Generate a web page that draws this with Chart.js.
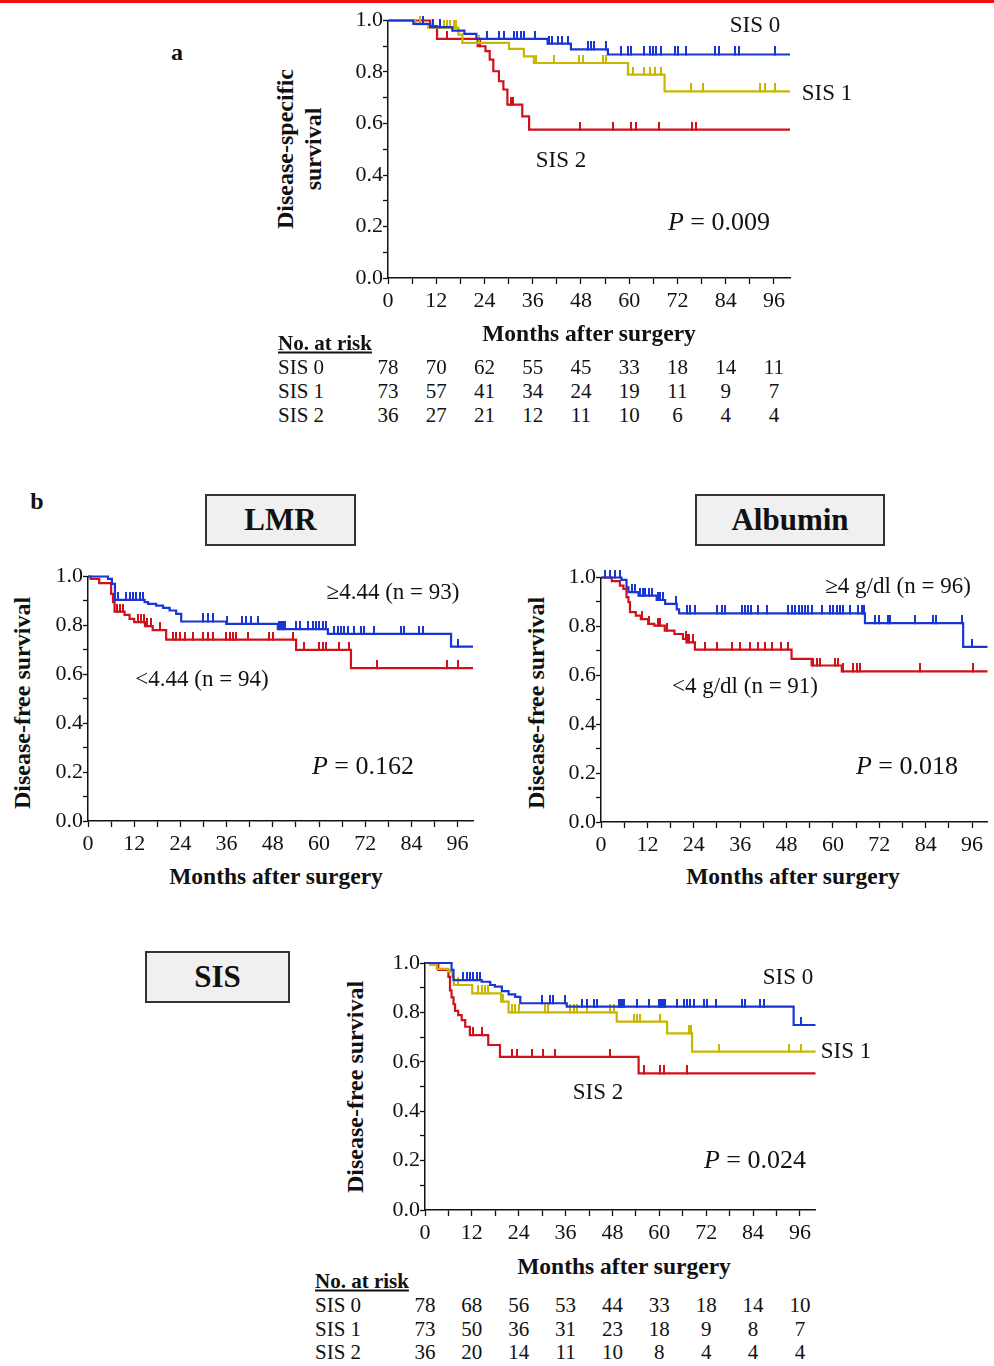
<!DOCTYPE html>
<html>
<head>
<meta charset="utf-8">
<script src="https://cdn.jsdelivr.net/npm/chart.js@4.4.0/dist/chart.umd.min.js"></script>
<style>
body{margin:0;width:994px;height:1366px;position:relative;background:#fff;overflow:hidden;
  font-family:"Liberation Serif","Times New Roman",serif;color:#111}
canvas{position:absolute}
.t{position:absolute;white-space:nowrap;font-size:23px;transform:translate(-50%,-50%);line-height:1}
.l{position:absolute;white-space:nowrap;font-size:21px;transform:translateY(-50%);line-height:1}
.b{font-weight:bold}
.rot{transform:translate(-50%,-50%) rotate(-90deg);font-weight:bold;font-size:24px;text-align:center;line-height:28px}
.p{font-size:26px}
.box{position:absolute;background:#f0f0f0;border:2px solid #333;box-sizing:border-box;
  display:flex;align-items:center;justify-content:center;font-weight:bold;font-size:31px}
#topline{position:absolute;left:0;top:0;width:994px;height:3px;background:#ee1111}
</style>
</head>
<body>
<div id="topline"></div>
<canvas id="cA" width="490" height="325" style="left:330px;top:5px"></canvas>
<canvas id="cLmr" width="450" height="300" style="left:40px;top:560px"></canvas>
<canvas id="cAlb" width="441" height="300" style="left:553px;top:560px"></canvas>
<canvas id="cB" width="460" height="300" style="left:370px;top:945px"></canvas>

<div class="t b" style="left:177px;top:52px;font-size:24px">a</div>
<div class="t b" style="left:37px;top:501px;font-size:24px">b</div>
<div class="box" style="left:205px;top:494px;width:151px;height:52px">LMR</div>
<div class="box" style="left:695px;top:494px;width:190px;height:52px">Albumin</div>
<div class="box" style="left:145px;top:951px;width:145px;height:52px">SIS</div>

<div class="t rot" style="left:299px;top:149px">Disease-specific<br>survival</div>
<div class="t rot" style="left:22px;top:703px">Disease-free survival</div>
<div class="t rot" style="left:536px;top:703px">Disease-free survival</div>
<div class="t rot" style="left:355px;top:1087px">Disease-free survival</div>

<div class="t b" style="left:589px;top:334px;font-size:23.5px">Months after surgery</div>
<div class="t b" style="left:276px;top:877px;font-size:23.5px">Months after surgery</div>
<div class="t b" style="left:793px;top:877px;font-size:23.5px">Months after surgery</div>
<div class="t b" style="left:624px;top:1267px;font-size:23.5px">Months after surgery</div>

<div class="t" style="left:755px;top:24px">SIS 0</div>
<div class="t" style="left:827px;top:92px">SIS 1</div>
<div class="t" style="left:561px;top:159px">SIS 2</div>
<div class="t p" style="left:719px;top:222px"><i>P</i> = 0.009</div>

<div class="t" style="left:393px;top:591px">≥4.44 (n = 93)</div>
<div class="t" style="left:202px;top:678px">&lt;4.44 (n = 94)</div>
<div class="t p" style="left:363px;top:766px"><i>P</i> = 0.162</div>

<div class="t" style="left:898px;top:585px">≥4 g/dl (n = 96)</div>
<div class="t" style="left:745px;top:685px">&lt;4 g/dl (n = 91)</div>
<div class="t p" style="left:907px;top:766px"><i>P</i> = 0.018</div>

<div class="t" style="left:788px;top:976px">SIS 0</div>
<div class="t" style="left:846px;top:1050px">SIS 1</div>
<div class="t" style="left:598px;top:1091px">SIS 2</div>
<div class="t p" style="left:755px;top:1160px"><i>P</i> = 0.024</div>

<script>
// axis ticks
const monthTicks = [0, 6, 12, 18, 24, 30, 36, 42, 48, 54, 60, 66, 72, 78, 84, 90, 96];
const riskMonths = [0, 12, 24, 36, 48, 60, 72, 84, 96];
const survTicks = [0, 0.1, 0.2, 0.3, 0.4, 0.5, 0.6, 0.7, 0.8, 0.9, 1.0];
const riskGroups = ['SIS 0', 'SIS 1', 'SIS 2'];

// a: disease-specific survival by SIS
const aSis0T = [6.3, 10.5, 16, 19, 22, 39.7, 45.5, 54.7];
const aSis0S = [0.987, 0.974, 0.961, 0.948, 0.929, 0.91, 0.888, 0.868];
const aSis0C = [8.8, 11.3, 13, 24.7, 27.6, 28.8, 31.3, 32.2, 33, 33.8, 36.5, 40.1, 40.9, 42.2, 43.4, 44.7,
  49.7, 50.5, 51.3, 54.2, 58, 59.7, 60.5, 63.8, 65.1, 65.9, 66.75, 68, 71.3, 72.2, 74.25, 81.3, 82.3, 86.3, 87.3, 96.3];
const aSis1T = [6.75, 10, 17.5, 18.5, 30.1, 33.8, 36.3, 59.7, 68.8];
const aSis1S = [0.986, 0.972, 0.945, 0.913, 0.89, 0.861, 0.835, 0.79, 0.725];
const aSis1C = [8, 14, 14.8, 15.5, 16.3, 17, 22.6, 36.8, 41.3, 47.6, 48.4, 53.4, 54.25, 60.9, 63.6, 65.1, 66.5, 67.9,
  75.3, 78.4, 92.6, 93.8, 96.3];
const aSis2T = [10.5, 12.2, 22.3, 24.25, 25.3, 26.2, 27.6, 28.7, 29.7, 33.4, 35.1];
const aSis2S = [0.978, 0.929, 0.9, 0.881, 0.848, 0.803, 0.764, 0.732, 0.673, 0.628, 0.576];
const aSis2C = [14.7, 22.8, 30.5, 31, 47.75, 56, 60.5, 61.7, 67.5, 75.5, 76.5];
const aRisk0 = [78, 70, 62, 55, 45, 33, 18, 14, 11];
const aRisk1 = [73, 57, 41, 34, 24, 19, 11, 9, 7];
const aRisk2 = [36, 27, 21, 12, 11, 10, 6, 4, 4];

// b: LMR
const lmrHighT = [5.2, 6.2, 7.0, 14.7, 15.6, 17.7, 19.5, 21.2, 22.9, 24.2, 35.9, 49.3, 62.3, 94.3];
const lmrHighS = [0.99, 0.97, 0.904, 0.895, 0.888, 0.881, 0.872, 0.861, 0.847, 0.816, 0.806, 0.785, 0.765, 0.713];
const lmrHighC = [7.8, 9.9, 10.8, 11.7, 12.5, 13.4, 14.3, 29.8, 31.1, 32.4, 36.1, 40, 41.1, 42.4, 44.1, 49.5, 49.9,
  50.3, 50.7, 51.1, 54, 55, 57.1, 58.4, 59.3, 60.1, 61, 61.8, 64, 64.9, 65.7, 66.6, 67.5, 69.2, 71, 71.8, 74.4,
  81.3, 82.2, 86, 86.9, 96];
const lmrLowT = [0.7, 2.9, 6.0, 6.5, 6.9, 9.5, 10.8, 12, 14.8, 16.8, 20.3, 54.05, 68.3];
const lmrLowS = [0.99, 0.973, 0.929, 0.895, 0.856, 0.843, 0.827, 0.813, 0.797, 0.781, 0.742, 0.70, 0.625];
const lmrLowC = [7.5, 8.3, 9.2, 12.9, 13.7, 14.5, 15.4, 16.3, 18.6, 22.05, 22.9, 23.8, 25.1, 27.25, 29.8, 31.1,
  32.4, 35.9, 36.8, 37.6, 38.5, 41.5, 47.1, 48, 53.2, 56.2, 60.1, 61, 61.8, 65.3, 67.9, 75.1, 93.2, 96.1];

// b: albumin
const albHighT = [5.3, 6.6, 7.1, 9.7, 14.4, 16.6, 19.6, 20.2, 68.3, 93.7];
const albHighS = [0.99, 0.96, 0.94, 0.926, 0.908, 0.892, 0.87, 0.853, 0.813, 0.716];
const albHighC = [1, 2.3, 3.6, 4.9, 8, 8.9, 10.2, 10.8, 11.4, 12.3, 13.1, 14.8, 15.2, 16, 19.4, 22.2, 23.1, 24.3,
  30, 31.2, 32.1, 36.4, 37.2, 38.1, 38.9, 40.7, 42.9, 48.5, 49.3, 50.2, 51.1, 51.9, 52.8, 53.6, 54.5, 57.1, 59.3,
  60.1, 61, 61.8, 62.7, 64.4, 66.6, 67.4, 68.1, 70.9, 71.8, 74.3, 74.8, 81.2, 86, 86.8, 93.3, 95.9];
const albLowT = [2.8, 4.9, 5.8, 6.6, 7.1, 7.5, 9, 10.3, 12.2, 13.8, 16.5, 19, 21.2, 22.1, 24.3, 49.3, 54.5, 62.3];
const albLowS = [0.985, 0.967, 0.953, 0.92, 0.899, 0.858, 0.844, 0.83, 0.81, 0.803, 0.783, 0.769, 0.749, 0.735,
  0.705, 0.667, 0.64, 0.616];
const albLowC = [10.5, 12.4, 14.8, 15.3, 17, 22, 22.4, 22.8, 23.7, 26.9, 29.9, 33.8, 36, 38.6, 40.7, 42.4, 44.2,
  46.7, 48.5, 54.9, 55.8, 56.7, 60.5, 61.4, 62.6, 65.3, 66.2, 67, 82.5, 96.3];

// b: disease-free survival by SIS
const bSis0T = [6.8, 7.3, 14.5, 16.7, 17.9, 19.7, 21.4, 23.1, 24.4, 36.3, 94.4];
const bSis0S = [0.972, 0.931, 0.924, 0.911, 0.904, 0.886, 0.873, 0.863, 0.837, 0.823, 0.749];
const bSis0C = [9.8, 10.7, 11.5, 12.4, 13.2, 14.1, 29.9, 32.05, 32.9, 35.9, 40.2, 41.5, 43.2, 44, 49.6, 50.1, 50.5,
  51, 54.3, 57.3, 59.8, 60.2, 60.6, 61.1, 61.5, 64.5, 66.2, 67.1, 67.9, 68.8, 71.4, 72.2, 74.4, 81.2, 82.05, 85.9,
  86.75, 96.2];
const bSis1T = [1.3, 3, 5.9, 7, 7.4, 12.1, 19.5, 21.4, 49.1, 62, 68.4];
const bSis1S = [0.992, 0.976, 0.965, 0.945, 0.911, 0.877, 0.844, 0.8, 0.763, 0.715, 0.641];
const bSis1C = [8.5, 13.7, 14.5, 15.4, 16.2, 19.9, 22.2, 23.1, 24, 30.8, 31.6, 37.2, 38.1, 38.9, 41.5, 47.4, 48.3,
  53.4, 54.3, 55.1, 60.2, 67.5, 68.2, 75.2, 93.2, 96.2];
const bSis2T = [3.4, 6, 6.4, 6.8, 7.3, 7.7, 8.5, 9.4, 10.3, 11.5, 16.2, 19.2, 54.7];
const bSis2S = [0.972, 0.944, 0.889, 0.861, 0.833, 0.806, 0.789, 0.769, 0.742, 0.708, 0.668, 0.62, 0.553];
const bSis2C = [12.4, 14.5, 22.2, 23.5, 27.4, 30.3, 33.3, 47.4, 56, 60.2, 61.1, 67.1];
const bRisk0 = [78, 68, 56, 53, 44, 33, 18, 14, 10];
const bRisk1 = [73, 50, 36, 31, 23, 18, 9, 8, 7];
const bRisk2 = [36, 20, 14, 11, 10, 8, 4, 4, 4];

const BLUE = '#1a36d2', RED = '#d0101a', YELLOW = '#c8b600';
const FONT = '"Liberation Serif", "Times New Roman", serif';

function survAt(times, vals, t) {
  let s = 1;
  for (let i = 0; i < times.length; i++) if (times[i] <= t) s = vals[i];
  return s;
}

function censorMark(color) {
  const c = document.createElement('canvas');
  c.width = 2; c.height = 16;
  const g = c.getContext('2d');
  g.fillStyle = color;
  g.fillRect(0, 0, 2, 9);
  return c;
}

function kmChart(id, curves, box) {
  const datasets = [];
  curves.forEach(c => {
    const pts = [{x: 0, y: 1}];
    c.t.forEach((t, i) => pts.push({x: t, y: c.s[i]}));
    pts.push({x: 100, y: c.s[c.s.length - 1]});
    datasets.push({data: pts, showLine: true, stepped: true, borderColor: c.color, borderWidth: 2.2,
      pointRadius: 0, clip: false});
    datasets.push({data: c.c.map(t => ({x: t, y: survAt(c.t, c.s, t)})), showLine: false,
      pointStyle: censorMark(c.color), pointRadius: 4, clip: false});
  });
  const tickFont = {family: FONT, size: 22};
  return new Chart(id, {
    type: 'scatter',
    data: {datasets: datasets},
    options: {
      responsive: false,
      animation: false,
      events: [],
      layout: {padding: {top: box.padTop, right: box.padRight, left: 0, bottom: 0}},
      plugins: {legend: {display: false}, tooltip: {enabled: false}},
      scales: {
        x: {
          type: 'linear', min: 0, max: 100,
          afterFit: a => { a.height = box.xh; },
          afterBuildTicks: a => { a.ticks = monthTicks.map(v => ({value: v})); },
          ticks: {autoSkip: false, maxRotation: 0, padding: 4, color: '#111', font: tickFont,
            callback: v => (v % 12 === 0 ? String(v) : '')},
          grid: {drawOnChartArea: false, drawTicks: true, tickLength: 6, tickColor: '#111', tickWidth: 1.3},
          border: {color: '#111', width: 1.5}
        },
        y: {
          type: 'linear', min: 0, max: 1,
          afterFit: a => { a.width = box.yw; },
          afterBuildTicks: a => { a.ticks = survTicks.map(v => ({value: v})); },
          ticks: {autoSkip: false, padding: 0, color: '#111', font: tickFont,
            callback: v => (Math.round(v * 10) % 2 === 0 ? v.toFixed(1) : '')},
          grid: {drawOnChartArea: false, drawTicks: true, tickLength: 5, tickColor: '#111', tickWidth: 1.3},
          border: {color: '#111', width: 1.5}
        }
      }
    }
  });
}

function riskTable(chart, canvasLeft, labelX, headY, rowYs, rows) {
  const add = (html, cls, x, y) => {
    const d = document.createElement('div');
    d.className = cls;
    d.innerHTML = html;
    d.style.left = x + 'px';
    d.style.top = y + 'px';
    document.body.appendChild(d);
    return d;
  };
  add('No. at risk', 'l b', labelX, headY).style.textDecoration = 'underline';
  rows.forEach((r, i) => {
    add(riskGroups[i], 'l', labelX, rowYs[i]);
    riskMonths.forEach((m, j) => {
      const x = canvasLeft + chart.scales.x.getPixelForValue(m);
      add(String(r[j]), 't', x, rowYs[i]).style.fontSize = '21px';
    });
  });
}

const chartA = kmChart('cA', [
  {t: aSis0T, s: aSis0S, c: aSis0C, color: BLUE},
  {t: aSis1T, s: aSis1S, c: aSis1C, color: YELLOW},
  {t: aSis2T, s: aSis2S, c: aSis2C, color: RED}
], {yw: 58, xh: 52, padTop: 15.5, padRight: 30});

kmChart('cLmr', [
  {t: lmrHighT, s: lmrHighS, c: lmrHighC, color: BLUE},
  {t: lmrLowT, s: lmrLowS, c: lmrLowC, color: RED}
], {yw: 48, xh: 39, padTop: 16.5, padRight: 17});

kmChart('cAlb', [
  {t: albHighT, s: albHighS, c: albHighC, color: BLUE},
  {t: albLowT, s: albLowS, c: albLowC, color: RED}
], {yw: 48, xh: 38, padTop: 17.5, padRight: 6.5});

const chartB = kmChart('cB', [
  {t: bSis0T, s: bSis0S, c: bSis0C, color: BLUE},
  {t: bSis1T, s: bSis1S, c: bSis1C, color: YELLOW},
  {t: bSis2T, s: bSis2S, c: bSis2C, color: RED}
], {yw: 55, xh: 35, padTop: 18, padRight: 14.5});

riskTable(chartA, 330, 278, 343, [367, 391, 415], [aRisk0, aRisk1, aRisk2]);
riskTable(chartB, 370, 315, 1281, [1305, 1329, 1352], [bRisk0, bRisk1, bRisk2]);
</script>
</body>
</html>
